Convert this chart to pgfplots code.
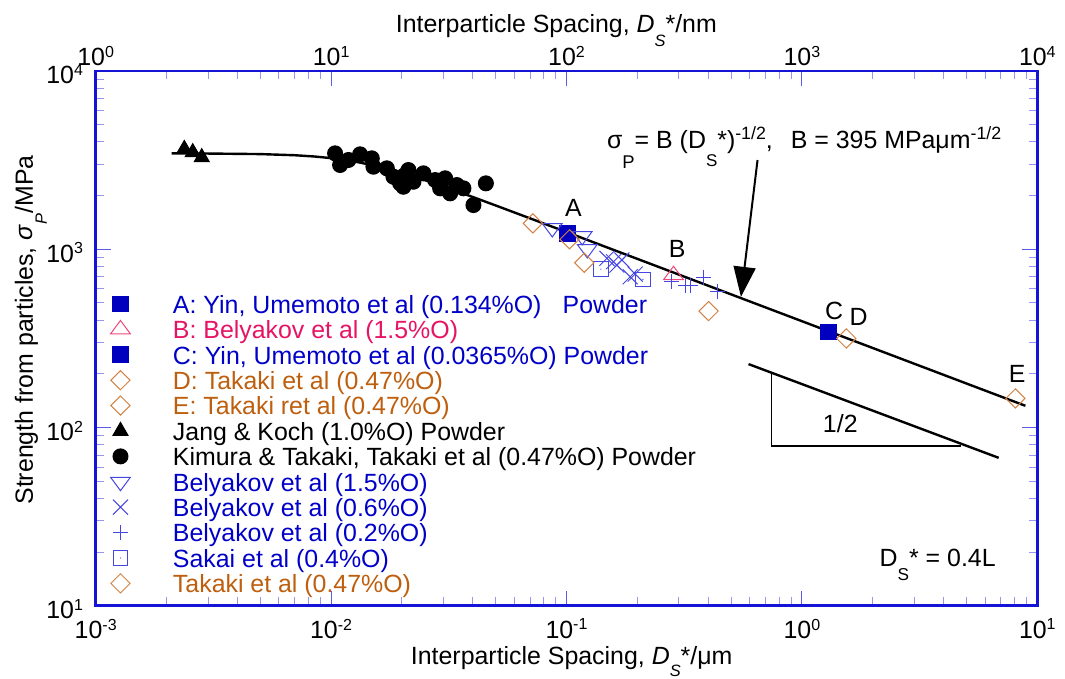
\documentclass[border=0pt]{standalone}
\usepackage{fontspec}
\setmainfont{Liberation Sans}
\usepackage{pgfplots}
\pgfplotsset{compat=1.18}
\usetikzlibrary{arrows.meta}
\definecolor{frameblue}{RGB}{20,20,215}
\definecolor{tickmaj}{RGB}{90,90,235}
\definecolor{tickmin}{RGB}{150,150,240}
\definecolor{bluetext}{RGB}{0,0,200}
\definecolor{bluemark}{RGB}{70,70,225}
\definecolor{fillblue}{RGB}{0,0,190}
\definecolor{pinktext}{RGB}{230,20,100}
\definecolor{pinkmark}{RGB}{240,70,120}
\definecolor{orangetext}{RGB}{190,95,15}
\definecolor{orangemark}{RGB}{210,130,70}
\newcommand{\fs}{\fontsize{12.45}{14}\selectfont}
\newcommand{\sups}[1]{\raisebox{4.1pt}{\fontsize{8}{8}\selectfont #1}}
\newcommand{\subx}[3]{\raisebox{#1}{\fontsize{#2}{#2}\selectfont #3}}
\pgfdeclareplotmark{sqdot}{%
  \pgfpathrectangle{\pgfqpoint{-\pgfplotmarksize}{-\pgfplotmarksize}}{\pgfqpoint{2\pgfplotmarksize}{2\pgfplotmarksize}}%
  \pgfusepathqstroke
  \pgfpathcircle{\pgfpointorigin}{0.35pt}\pgfusepathqfill}
\pgfplotsset{mk/.style={only marks, line width=0.5pt,
  legend image code/.code={\path (-6pt,0pt) (6pt,0pt); \draw[##1] plot coordinates {(0pt,0pt)};}}}
\begin{document}
\begin{tikzpicture}[font=\fs]
\begin{axis}[name=main,
  scale only axis, width=470.8pt, height=267.4pt,
  xmode=log, ymode=log, xmin=1e-3, xmax=10, ymin=10, ymax=1e4,
  xtick={0.001,0.01,0.1,1,10},
  xticklabels={10\sups{-3},10\sups{-2},10\sups{-1},10\sups{0},10\sups{1}},
  minor xtick={0.002,0.003,0.004,0.005,0.006,0.007,0.008,0.009,0.02,0.03,0.04,0.05,0.06,0.07,0.08,0.09,0.2,0.3,0.4,0.5,0.6,0.7,0.8,0.9,2,3,4,5,6,7,8,9},
  ytick={10,100,1000,10000},
  yticklabels={10\sups{1},10\sups{2},10\sups{3},10\sups{4}},
  minor ytick={20,30,40,50,60,70,80,90,200,300,400,500,600,700,800,900,2000,3000,4000,5000,6000,7000,8000,9000},
  tick label style={font=\fs},
  xticklabel style={yshift=-3pt},
  yticklabel style={xshift=-2.85pt,yshift=-1.6pt},
  axis line style={draw=frameblue, line width=1.35pt},
  major tick style={draw=tickmaj, line width=0.5pt},
  minor tick style={draw=tickmin, line width=0.5pt},
  major tick length=7.5pt, minor tick length=4.2pt,
  clip=false,
  legend cell align=left,
  legend style={at={(axis description cs:0.01306,0.5881)}, anchor=north west,
    draw=none, fill=none, inner sep=0pt, outer sep=0pt, row sep=0pt, column sep=20pt,
    font=\fs, nodes={inner sep=0pt, outer sep=0pt, text height=11pt, text depth=1.7pt}},
]
% fitted curve and slope guide
\addplot[black, line width=1.2pt, forget plot] coordinates {
 (0.0021,3448) (0.003,3443) (0.005,3419) (0.007,3369) (0.0085,3314) (0.01,3245)
 (0.011,3193) (0.013,3080) (0.015,2961) (0.017,2845) (0.02,2680) (0.025,2443)
 (0.03,2250) (0.04,1964) (0.05,1761) (0.07,1491) (0.1,1248.5) (0.2,883.2)
 (0.5,558.6) (1,395) (2,279.3) (5,176.6) (8.9,132.4)};
\addplot[black, line width=1.2pt, forget plot] coordinates {(0.5935,226.9) (6.855,67.6)};
\addplot[black, line width=0.75pt, forget plot] coordinates {(0.7413,201.2) (0.7413,78.6) (4.745,78.6)};

\addplot[mk, mark=square*, mark size=3.9pt, color=fillblue] coordinates {(0.101,1228)};
\addlegendentry{\textcolor{bluetext}{A: Yin, Umemoto et al (0.134\%O)\hspace{0.85em}Powder}}
\addplot[mk, mark=triangle, mark size=5.7pt, color=pinkmark, mark options={yscale=0.78}] coordinates {(0.2849,716)};
\addlegendentry{\textcolor{pinktext}{B: Belyakov et al (1.5\%O)}}
\addplot[mk, mark=square*, mark size=3.9pt, color=fillblue] coordinates {(1.299,344)};
\addlegendentry{\textcolor{bluetext}{C: Yin, Umemoto et al (0.0365\%O) Powder}}
\addplot[mk, mark=square, mark size=3.4pt, color=orangemark, mark options={rotate=45}] coordinates {(1.544,316)};
\addlegendentry{\textcolor{orangetext}{D: Takaki et al (0.47\%O)}}
\addplot[mk, mark=square, mark size=3.4pt, color=orangemark, mark options={rotate=45}] coordinates {(8.07,145.6)};
\addlegendentry{\textcolor{orangetext}{E: Takaki ret al (0.47\%O)}}
\addplot[mk, mark=triangle*, mark size=4.3pt, color=black] coordinates {(0.002379,3650) (0.002584,3498) (0.002822,3279)};
\addlegendentry{Jang \& Koch (1.0\%O) Powder}
\addplot[mk, mark=*, mark size=3.75pt, color=black] coordinates {
 (0.0104,3452) (0.01092,2969) (0.01185,3168) (0.01328,3408) (0.01489,3237) (0.01513,2904)
 (0.01725,2844) (0.0184,2552) (0.01902,2500) (0.01965,2343) (0.02029,2242) (0.02131,2782)
 (0.02238,2392) (0.02468,2666) (0.02767,2445) (0.02906,2197) (0.03051,2500) (0.03204,2059)
 (0.03421,2292) (0.0365,2197) (0.04025,1770) (0.04545,2343) (0.0205,2600) (0.0215,2480)};
\addlegendentry{Kimura \& Takaki, Takaki et al (0.47\%O) Powder}
\addplot[mk, mark=triangle, mark size=5.7pt, color=bluemark, mark options={rotate=180,yscale=0.78}] coordinates {(0.087,1315) (0.1166,1186) (0.1225,1003)};
\addlegendentry{\textcolor{bluetext}{Belyakov et al (1.5\%O)}}
\addplot[mk, mark=x, mark size=5.3pt, color=bluemark] coordinates {(0.1485,889) (0.1584,851) (0.1637,815) (0.1719,870) (0.1865,701) (0.1959,726)};
\addlegendentry{\textcolor{bluetext}{Belyakov et al (0.6\%O)}}
\addplot[mk, mark=+, mark size=3.75pt, color=bluemark] coordinates {(0.2805,657) (0.3195,630) (0.3357,630) (0.3823,696) (0.4383,577)};
\addlegendentry{\textcolor{bluetext}{Belyakov et al (0.2\%O)}}
\addplot[mk, mark=sqdot, mark size=3.6pt, color=bluemark] coordinates {(0.14,774) (0.2112,678)};
\addlegendentry{\textcolor{bluetext}{Sakai et al (0.4\%O)}}
\addplot[mk, mark=square, mark size=3.4pt, color=orangemark, mark options={rotate=45}] coordinates {(0.07197,1398) (0.103,1137) (0.1189,840) (0.4014,450)};
\addlegendentry{\textcolor{orangetext}{Takaki et al (0.47\%O)}}

\draw[line width=1pt, -{Triangle[length=15pt,width=11pt]}] (axis cs:0.648,3167) -- (axis cs:0.551,541);

\node[inner sep=0pt] at (axis cs:0.1071,1696) {A};
\node[inner sep=0pt] at (axis cs:0.2955,1000) {B};
\node[inner sep=0pt] at (axis cs:1.37,453) {C};
\node[inner sep=0pt] at (axis cs:1.742,418) {D};
\node[inner sep=0pt] at (axis cs:8.21,198.6) {E};
\node[inner sep=0pt] at (axis cs:1.456,105.4) {1/2};

\node[inner sep=0pt, anchor=base west] at (axis description cs:0.5427,0.8555)
  {σ\subx{-10pt}{9.2}{P}= B (D\subx{-8.9pt}{8.5}{S}*)\subx{4.5pt}{8.9}{-1/2},\hspace{0.72em}B = 395 MPaμm\subx{4.5pt}{8.9}{-1/2}};
\node[inner sep=0pt, anchor=base west] at (axis description cs:0.8322,0.0731)
  {D\subx{-7pt}{8.6}{S}* = 0.4L};

\node[inner sep=0pt, anchor=base] at (axis description cs:0.5055,-0.1107)
  {Interparticle Spacing, \textit{D}\subx{-5.8pt}{8.2}{\textit{S}}*/μm};
\node[inner sep=0pt, anchor=base] at (axis description cs:0.4892,1.0724)
  {Interparticle Spacing, \textit{D}\subx{-7pt}{8.2}{\textit{S}}*/nm};
\node[inner sep=0pt, anchor=base, rotate=90] at (axis description cs:-0.0666,0.5157)
  {Strength from particles, \textit{σ}\subx{-7pt}{8.2}{\textit{P}}/MPa};

\path ([xshift=-47.85pt,yshift=-36.6pt]axis description cs:0,0) rectangle ([xshift=13.85pt,yshift=35.5pt]axis description cs:1,1);
\end{axis}
\begin{axis}[
  scale only axis, width=470.8pt, height=267.4pt,
  xmode=log, xmin=1, xmax=1e4, ymin=0, ymax=1,
  axis x line*=top, hide y axis,
  axis line style={draw=none},
  xtick={1,10,100,1000,10000},
  xticklabels={10\sups{0},10\sups{1},10\sups{2},10\sups{3},10\sups{4}},
  minor xtick={},
  xtick style={draw=none},
  major tick length=0pt, minor tick length=0pt,
  tick label style={font=\fs},
  xticklabel style={yshift=-0.9pt},
]
\end{axis}
\end{tikzpicture}
\end{document}
